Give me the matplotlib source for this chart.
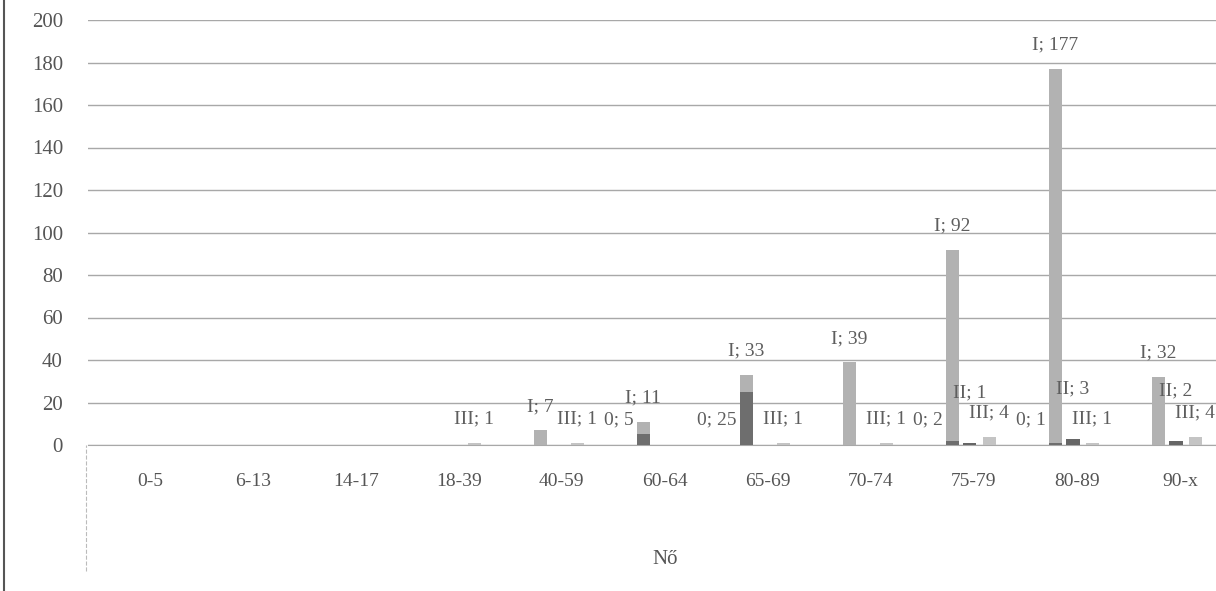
import numpy as np
import matplotlib.pyplot as plt

# Data
categories = ['0-5', '6-13', '14-17', '18-39', '40-59', '60-64',
              '65-69', '70-74', '75-79', '80-89', '90-x']
vals_I = [0, 0, 0, 0, 7, 11, 33, 39, 92, 177, 32]
vals_0 = [0, 0, 0, 0, 0, 5, 25, 0, 2, 1, 0]
vals_II = [0, 0, 0, 0, 0, 0, 0, 0, 1, 3, 2]
vals_III = [0, 0, 0, 1, 1, 0, 1, 1, 4, 1, 4]
y_ticks = [0, 20, 40, 60, 80, 100, 120, 140, 160, 180, 200]
x_title = 'Nő'


def main():
    plt.rcParams['font.family'] = ['Liberation Serif', 'DejaVu Serif']

    fig = plt.figure(figsize=(12.16, 5.91), dpi=100)
    ax = fig.add_axes([88 / 1216, 146 / 591, 1128 / 1216, 425 / 591])

    x = np.arange(len(categories))
    width = 0.13
    txt = dict(fontsize=14, color='#5e5e5e', zorder=4)

    # series "0" sits over "I" in the same slot, as in the original
    setup = [
        ('I', vals_I, -0.21, '#b2b2b2'),
        ('0', vals_0, -0.21, '#6e6e6e'),
        ('II', vals_II, -0.04, '#666666'),
        ('III', vals_III, 0.15, '#c4c4c4'),
    ]
    for name, vals, off, col in setup:
        bars = ax.bar(x + off, vals, width, color=col, zorder=3)
        for b, v in zip(bars, vals):
            if v == 0:
                continue
            lab = f"{name}; {v}"
            if name == '0':
                # Excel put these left of the bar, low down
                ax.annotate(lab, (b.get_x(), 12), xytext=(-2, 0),
                            textcoords='offset points', ha='right',
                            va='center', **txt)
            else:
                dy = 36 if name == 'II' else 17
                ax.annotate(lab, (b.get_x() + b.get_width() / 2, v),
                            xytext=(0, dy), textcoords='offset points',
                            ha='center', va='center', **txt)

    ax.set_xlim(-0.6, 10.35)
    ax.set_ylim(0, 200)
    ax.set_yticks(y_ticks)
    ax.set_xticks(x)
    ax.set_xticklabels(categories)
    ax.tick_params(axis='y', length=0, pad=18, labelsize=15, labelcolor='#555555')
    ax.tick_params(axis='x', length=0, pad=20, labelsize=14, labelcolor='#555555')
    ax.yaxis.grid(True, color='#a8a8a8', lw=1.0, zorder=0)
    for s in ['top', 'right', 'left']:
        ax.spines[s].set_visible(False)
    ax.spines['bottom'].set_color('#a8a8a8')

    ax.set_xlabel(x_title, fontsize=15, color='#555555')
    ax.xaxis.set_label_coords((665 - 88) / 1128, -0.247)

    # scan frame lines
    fig.add_artist(plt.Line2D([4 / 1216, 4 / 1216], [0, 1], color='#555555', lw=1.5))
    fig.add_artist(plt.Line2D([86 / 1216, 86 / 1216], [20 / 591, 146 / 591],
                              color='#bbbbbb', lw=0.8, ls='--'))

    fig.savefig('out.png', dpi=100)


if __name__ == '__main__':
    main()
